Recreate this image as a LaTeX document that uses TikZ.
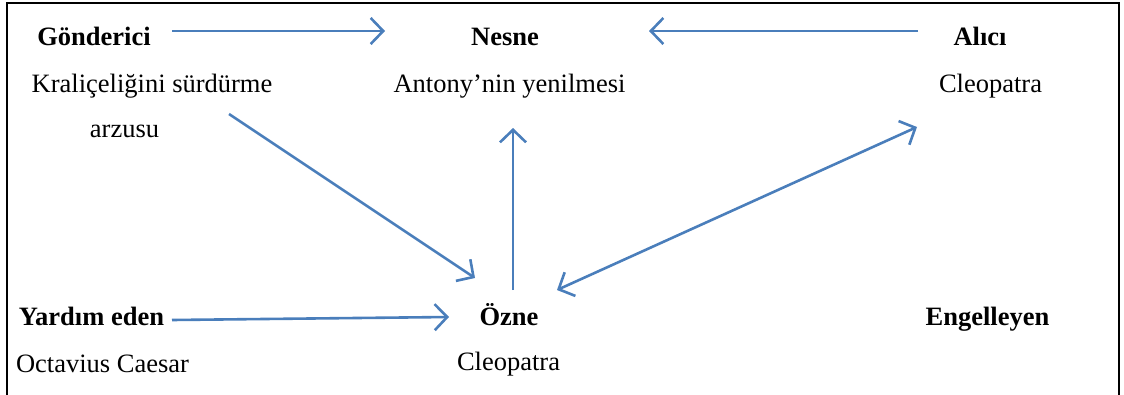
\documentclass[tikz,border=0pt]{standalone}
\usepackage{fontspec}
\setmainfont{Liberation Serif}
\usetikzlibrary{arrows.meta}
\definecolor{arrowblue}{HTML}{4A7EBB}
\begin{document}
\begin{tikzpicture}[x=1pt,y=-1pt,
  lbl/.style={anchor=base,inner sep=0pt,font=\fontsize{26.5}{30}\selectfont},
  role/.style={lbl,font=\fontsize{26.5}{30}\selectfont\bfseries},
  barb/.tip={Straight Barb[length=12.5pt,width=26pt,line width=2.6pt]},
  link/.style={draw=arrowblue,line width=2.6pt,-barb},
  both/.style={link,barb-barb},
  frame/.style={draw=black,line width=2.2pt}]
\useasboundingbox (0,0) rectangle (1124,394);
\clip (0,0) rectangle (1124,394);

% outer frame (bottom edge lies below the visible area)
\draw[frame] (7,420) |- (1119,3) -- (1119,420);

% actant roles and their contents
\node[role] (gonderici) at (94,45) {Gönderici};
\node[lbl]  (arzu1)     at (152,92) {Kraliçeliğini sürdürme};
\node[lbl]  (arzu2)     at (124.5,137) {arzusu};
\node[role] (nesne)     at (505,45) {Nesne};
\node[lbl]  (antony)    at (509.5,92) {Antony’nin yenilmesi};
\node[role] (alici)     at (980,45) {Alıcı};
\node[lbl]  (cleoA)     at (990.5,92) {Cleopatra};
\node[role] (yardim)    at (91.5,325) {Yardım eden};
\node[lbl]  (octavius)  at (102.5,372) {Octavius Caesar};
\node[role] (ozne)      at (509,325) {Özne};
\node[lbl]  (cleoO)     at (508.5,370) {Cleopatra};
\node[role] (engel)     at (987.5,325) {Engelleyen};

% connector end points
\coordinate (g-out)  at (172,31);
\coordinate (n-inL)  at (385,31);
\coordinate (a-out)  at (918,31);
\coordinate (n-inR)  at (649,31);
\coordinate (arz-out) at (229,114);
\coordinate (o-inL)  at (475,278);
\coordinate (o-up)   at (513,290);
\coordinate (n-inB)  at (513,128);
\coordinate (o-inR)  at (557,290);
\coordinate (a-inB)  at (917,127);
\coordinate (y-out)  at (172,320);
\coordinate (o-inW)  at (449,317);

% connectors
\draw[link] (g-out) -- (n-inL);
\draw[link] (a-out) -- (n-inR);
\draw[link] (arz-out) -- (o-inL);
\draw[link] (o-up) -- (n-inB);
\draw[both] (o-inR) -- (a-inB);
\draw[link] (y-out) -- (o-inW);
\end{tikzpicture}
\end{document}
